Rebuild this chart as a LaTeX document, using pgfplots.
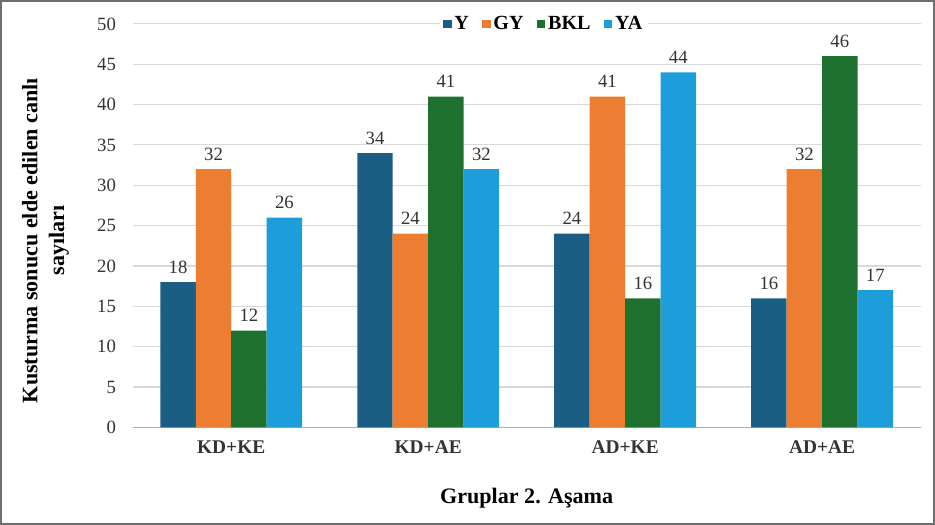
\documentclass[border=0pt]{standalone}
\usepackage{fontspec}
\setmainfont{Liberation Serif}
\usepackage{pgfplots}
\pgfplotsset{compat=1.18}

\definecolor{cY}{RGB}{26,94,132}
\definecolor{cGY}{RGB}{237,125,49}
\definecolor{cBKL}{RGB}{30,112,46}
\definecolor{cYA}{RGB}{29,157,218}
\definecolor{gridgray}{RGB}{217,217,217}
\definecolor{framegray}{RGB}{110,110,110}

\begin{document}
\begin{tikzpicture}
% outer frame around the chart area
\draw[framegray, line width=1.2pt] (-98.6pt,-72pt) rectangle (598.9pt,318.75pt);
\begin{axis}[
  scale only axis,
  width=588.75pt, height=301.5pt,
  ybar=0pt, bar width=26.5pt,
  xmin=-0.5, xmax=3.5,
  ymin=0, ymax=50,
  ytick distance=5,
  xtick=data,
  xticklabels={KD+KE,KD+AE,AD+KE,AD+AE},
  axis x line*=bottom,
  axis y line*=left,
  y axis line style={draw=none},
  x axis line style={draw=gridgray!80!black, line width=0.8pt},
  major tick length=0pt,
  ymajorgrids,
  grid style={draw=gridgray, line width=0.8pt},
  /pgf/number format/assume math mode=true,
  ticklabel style={font=\fontsize{14}{16}\selectfont, text=black!80},
  yticklabel style={xshift=-9pt},
  xticklabel style={font=\fontsize{14.5}{16}\selectfont\bfseries, yshift=-6.5pt},
  xlabel={Gruplar 2. Aşama},
  xlabel style={font=\fontsize{16.5}{19}\selectfont\bfseries, at={(axis description cs:0.5,0)}, anchor=center, yshift=-53pt},
  ylabel={Kusturma sonucu elde edilen canlı\\sayıları},
  ylabel style={font=\fontsize{16.5}{20}\selectfont\bfseries, align=center, at={(axis description cs:-0.1108,0.463)}, anchor=center},
  nodes near coords,
  every node near coord/.append style={font=\fontsize{14}{16}\selectfont, text=black!80, yshift=3pt},
  legend columns=4,
  legend style={at={(axis description cs:0.522,1)}, anchor=center, draw=none, fill=white,
    font=\fontsize{15}{17}\selectfont\bfseries, /tikz/every even column/.append style={column sep=8pt},
    inner sep=2pt},
  legend image code/.code={\fill[#1] (0pt,-3.2pt) rectangle (6.4pt,3.2pt);},
]
\addplot[fill=cY, draw=none] coordinates {(0,18) (1,34) (2,24) (3,16)};
\addplot[fill=cGY, draw=none] coordinates {(0,32) (1,24) (2,41) (3,32)};
\addplot[fill=cBKL, draw=none] coordinates {(0,12) (1,41) (2,16) (3,46)};
\addplot[fill=cYA, draw=none] coordinates {(0,26) (1,32) (2,44) (3,17)};
\legend{Y,GY,BKL,YA}
\end{axis}
\end{tikzpicture}
\end{document}
